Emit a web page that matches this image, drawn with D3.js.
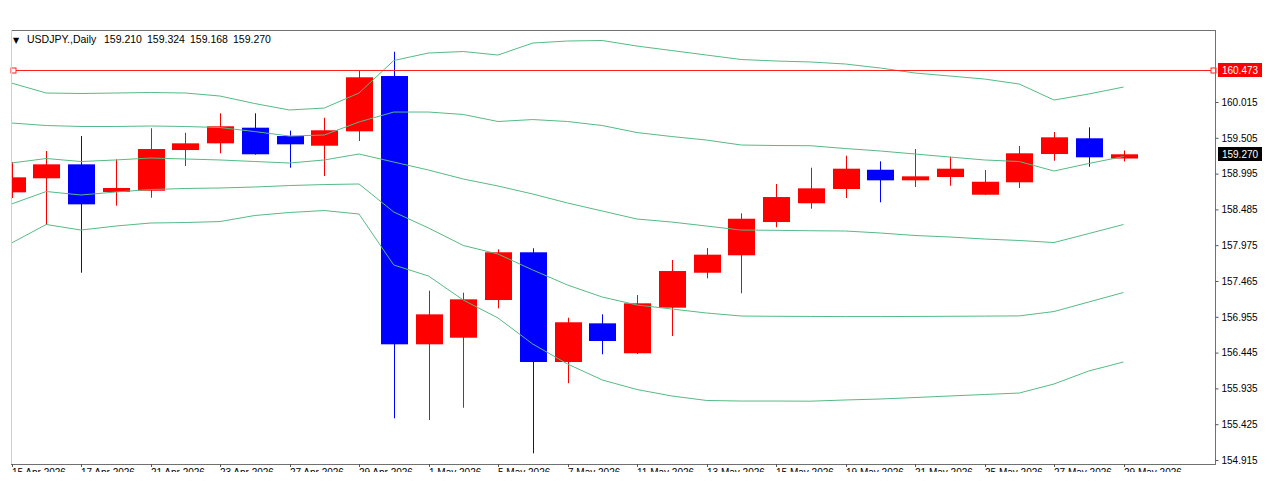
<!DOCTYPE html>
<html>
<head>
<meta charset="utf-8">
<script src="https://cdn.jsdelivr.net/npm/d3@7"></script>
<style>
  body { margin: 0; background: #fff; }
  svg { display: block; }
  text { font-family: "Liberation Sans", Arial, sans-serif; }
</style>
</head>
<body>
<svg id="chart" width="1274" height="500"></svg>
<script>
// daily bars, 15 Apr .. 29 May 2026
var dates = ["2026-04-15","2026-04-16","2026-04-17","2026-04-20","2026-04-21","2026-04-22","2026-04-23",
  "2026-04-24","2026-04-27","2026-04-28","2026-04-29","2026-04-30","2026-05-01","2026-05-04","2026-05-05",
  "2026-05-06","2026-05-07","2026-05-08","2026-05-11","2026-05-12","2026-05-13","2026-05-14","2026-05-15",
  "2026-05-18","2026-05-19","2026-05-20","2026-05-21","2026-05-22","2026-05-25","2026-05-26","2026-05-27",
  "2026-05-28","2026-05-29"];

var opens  = [158.728,158.928,159.127,158.733,158.751,159.331,159.426,159.649,159.530,159.392,159.597,160.385,
  156.563,156.657,157.194,157.874,156.311,156.862,156.435,157.085,157.583,157.831,158.305,158.572,158.775,
  159.050,158.899,158.946,158.694,158.871,159.274,159.498,159.210];
var highs  = [159.160,159.317,159.530,159.198,159.640,159.577,159.854,159.854,159.606,159.791,160.456,160.731,
  157.327,157.298,157.916,157.931,156.942,156.990,157.265,157.764,157.935,158.429,158.847,159.079,159.250,
  159.170,159.345,159.236,159.046,159.388,159.587,159.654,159.324];
var lows   = [158.647,158.263,157.583,158.538,158.651,159.103,159.284,159.265,159.079,158.961,159.459,155.509,
  155.485,155.660,157.076,155.010,156.008,156.421,156.425,156.681,157.503,157.290,158.230,158.495,158.647,
  158.586,158.804,158.822,158.690,158.790,159.179,159.093,159.168];
var closes = [158.942,159.127,158.557,158.790,159.345,159.426,159.669,159.270,159.412,159.612,160.367,156.563,
  156.990,157.204,157.874,156.311,156.877,156.610,157.147,157.607,157.840,158.352,158.661,158.785,159.065,
  158.899,158.956,159.065,158.879,159.284,159.512,159.227,159.270];

// bollinger lines (outer upper, inner upper, middle, inner lower, outer lower)
var bandUpper2 = [160.285,160.143,160.136,160.143,160.150,160.143,160.100,159.993,159.901,159.929,160.143,160.606,
  160.713,160.734,160.684,160.855,160.884,160.891,160.812,160.748,160.684,160.620,160.599,160.585,160.556,
  160.499,160.428,160.385,160.342,160.271,160.043,160.129,160.228];
var bandUpper1 = [159.716,159.680,159.666,159.666,159.673,159.666,159.651,159.594,159.530,159.545,159.730,159.872,
  159.872,159.837,159.737,159.765,159.737,159.680,159.580,159.523,159.473,159.402,159.395,159.392,159.352,
  159.317,159.274,159.231,159.189,159.167,159.032,159.139,159.238];
var bandMiddle = [159.146,159.210,159.167,159.189,159.217,159.203,159.189,159.167,159.146,159.189,159.274,159.160,
  159.046,158.918,158.818,158.704,158.576,158.462,158.348,158.305,158.248,158.191,158.187,158.181,158.177,
  158.149,158.113,158.092,158.063,158.042,158.013,158.141,158.270];
var bandLower1 = [158.562,158.740,158.690,158.733,158.768,158.783,158.790,158.804,158.825,158.839,158.847,158.448,
  158.220,157.971,157.849,157.622,157.408,157.237,157.123,157.066,157.009,156.966,156.962,156.960,156.958,
  156.958,156.960,156.962,156.965,156.968,157.030,157.166,157.301];
var bandLower2 = [158.006,158.270,158.191,158.248,158.291,158.298,158.312,158.398,158.441,158.469,158.419,157.693,
  157.536,157.194,156.938,156.567,156.283,156.055,155.919,155.827,155.763,155.755,155.755,155.753,155.770,
  155.784,155.805,155.827,155.848,155.869,155.998,156.183,156.311];

var priceTicks = [154.915,155.425,155.935,156.445,156.955,157.465,157.975,158.485,158.995,159.505,160.015];
var dateTicks = dates.filter(function(d, i){ return i % 2 == 0 });

var symbol = "USDJPY.,Daily";
var lastBar = ["159.210","159.324","159.168","159.270"];
var levelPrice = 160.473;
var lastPrice = 159.270;

var svg = d3.select("#chart");

// plot frame
var plotL = 11, plotT = 30, plotR = 1216, plotB = 464;

var x = d3.scalePoint()
  .domain(dates)
  .range([11.5, 1123.5]);

var y = d3.scaleLinear()
  .domain([154.915, 160.015])
  .range([460, 102]);

var parse = d3.timeParse("%Y-%m-%d");
var fmt = d3.timeFormat("%-d %b %Y");

var defs = svg.append("defs");
defs.append("clipPath").attr("id", "plotclip")
  .append("rect").attr("x", plotL).attr("y", plotT).attr("width", plotR - plotL).attr("height", plotB - plotT);
// the date labels are cut off in the original screenshot
defs.append("clipPath").attr("id", "lblclip")
  .append("rect").attr("x", 0).attr("y", plotB).attr("width", 1274).attr("height", 8);

var plot = svg.append("g").attr("clip-path", "url(#plotclip)");

// candles
var candles = dates.map(function(d, i){
  return {date: d, o: opens[i], h: highs[i], l: lows[i], c: closes[i]};
});

function col(d){ return d.c >= d.o ? "#ff0000" : "#0000ff" }

plot.selectAll(".wick")
  .data(candles)
  .enter()
  .append("line")
  .attr("class", "wick")
  .attr("x1", function(d){ return Math.round(x(d.date)) + 0.5 })
  .attr("x2", function(d){ return Math.round(x(d.date)) + 0.5 })
  .attr("y1", function(d){ return y(d.h) })
  .attr("y2", function(d){ return y(d.l) })
  .attr("stroke", col)
  .attr("stroke-width", 1);

plot.selectAll(".body")
  .data(candles)
  .enter()
  .append("rect")
  .attr("class", "body")
  .attr("x", function(d){ return Math.round(x(d.date)) - 13 })
  .attr("width", 27)
  .attr("y", function(d){ return y(Math.max(d.o, d.c)) })
  .attr("height", function(d){ return Math.max(1, Math.abs(y(d.o) - y(d.c))) })
  .attr("fill", col);

// bands drawn over the candles
var bandLine = d3.line()
  .x(function(v, i){ return x(dates[i]) })
  .y(function(v){ return y(v) });

plot.selectAll(".band")
  .data([bandUpper2, bandUpper1, bandMiddle, bandLower1, bandLower2])
  .enter()
  .append("path")
  .attr("class", "band")
  .attr("d", bandLine)
  .attr("fill", "none")
  .attr("stroke", "#55bb85")
  .attr("stroke-width", 1);

// horizontal level line
var ly = Math.round(y(levelPrice)) + 0.5;
svg.append("line")
  .attr("x1", plotL).attr("x2", plotR)
  .attr("y1", ly).attr("y2", ly)
  .attr("stroke", "#ff2020").attr("stroke-width", 1);
svg.selectAll(".lvlsq")
  .data([plotL + 2, plotR - 3])
  .enter()
  .append("rect")
  .attr("x", function(d){ return d - 2 })
  .attr("y", ly - 2.5)
  .attr("width", 5).attr("height", 5)
  .attr("fill", "#fff").attr("stroke", "#ff2020");

// frame
svg.append("rect")
  .attr("x", plotL + 0.5).attr("y", plotT + 0.5)
  .attr("width", plotR - plotL - 1).attr("height", plotB - plotT)
  .attr("fill", "none").attr("stroke", "#707070");
svg.append("line")
  .attr("x1", plotL + 0.5).attr("x2", plotL + 0.5).attr("y1", plotT).attr("y2", plotB)
  .attr("stroke", "#d0d0d0");

// price axis
var yAxis = d3.axisRight(y)
  .tickValues(priceTicks)
  .tickSize(3)
  .tickPadding(3)
  .tickFormat(d3.format(".3f"));

var ya = svg.append("g")
  .attr("transform", "translate(" + (plotR - 0.5) + ",0)")
  .call(yAxis);
ya.select(".domain").remove();
ya.selectAll("line").attr("stroke", "#555");
ya.selectAll("text").attr("font-size", 10).attr("fill", "#000")
  .attr("font-family", "'Liberation Sans', Arial, sans-serif");

// date axis
var xAxis = d3.axisBottom(x)
  .tickValues(dateTicks)
  .tickSize(3)
  .tickFormat(function(d){ return fmt(parse(d)) });

var xa = svg.append("g")
  .attr("clip-path", "url(#lblclip)")
  .append("g")
  .attr("transform", "translate(0," + plotB + ")")
  .call(xAxis);
xa.select(".domain").remove();
xa.selectAll(".tick").attr("transform", function(d){ return "translate(" + (Math.round(x(d)) + 0.5) + ",0)" });
xa.selectAll("line").attr("stroke", "#555");
xa.selectAll("text")
  .attr("text-anchor", "start")
  .attr("x", -0.5)
  .attr("y", 5)
  .attr("dy", "0.71em")
  .attr("font-size", 10)
  .attr("fill", "#000")
  .attr("font-family", "'Liberation Sans', Arial, sans-serif");

// price labels on the scale
var tags = [
  {v: levelPrice, fill: "#ff0000"},
  {v: lastPrice, fill: "#000000"}
];
var tg = svg.selectAll(".tag")
  .data(tags)
  .enter()
  .append("g")
  .attr("class", "tag");
tg.append("rect")
  .attr("x", plotR + 2)
  .attr("y", function(d){ return Math.round(y(d.v)) - 7 })
  .attr("width", 44).attr("height", 14)
  .attr("fill", function(d){ return d.fill });
tg.append("text")
  .attr("x", plotR + 24)
  .attr("y", function(d){ return Math.round(y(d.v)) })
  .attr("dy", "0.35em")
  .attr("text-anchor", "middle")
  .attr("font-size", 10)
  .attr("fill", "#fff")
  .text(function(d){ return d3.format(".3f")(d.v) });

// header
var head = svg.append("text")
  .attr("y", 43)
  .attr("font-size", 10.5)
  .attr("fill", "#000");
head.append("tspan").attr("x", 13).attr("font-family", "'DejaVu Sans', sans-serif").attr("font-size", 8).text("\u25BC");
head.append("tspan").attr("x", 27).text(symbol);
head.selectAll(".ohlc")
  .data(lastBar)
  .enter()
  .append("tspan")
  .attr("x", function(d, i){ return 104 + i * 43 })
  .text(function(d){ return d });
</script>
</body>
</html>
